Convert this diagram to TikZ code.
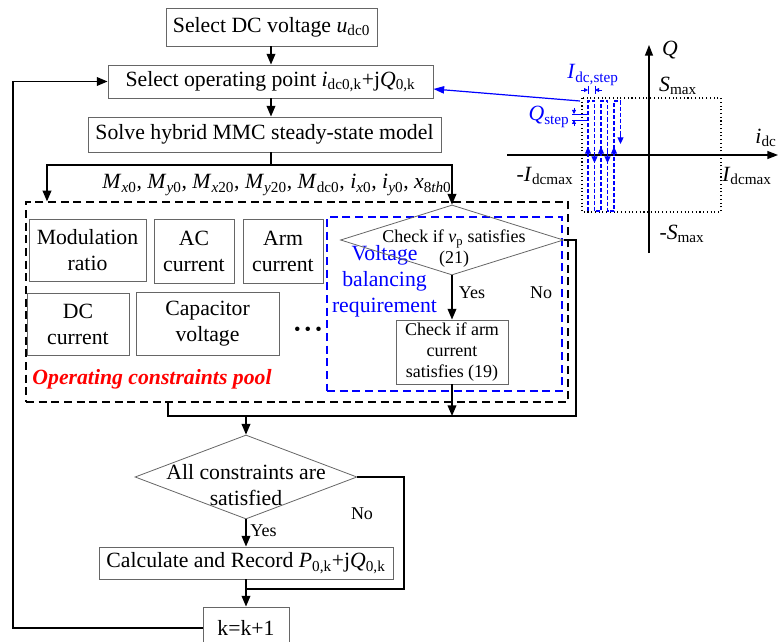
\documentclass[tikz,border=0pt]{standalone}
\usepackage{fontspec}
\setmainfont{Liberation Serif}
\usetikzlibrary{arrows.meta,shapes.geometric}
\newcommand{\sbx}[1]{\textsubscript{#1}}
\tikzset{
  fmain/.style={font=\fontsize{16.3}{19.5}\selectfont},
  fsmall/.style={font=\fontsize{13.5}{16}\selectfont},
  sz/.style 2 args={minimum width=#1*0.75pt, minimum height=#2*0.75pt},
  gbox/.style={draw=black!60, line width=0.7pt, inner sep=0pt, align=center, fmain},
  dia/.style={diamond, draw=black!60, line width=0.6pt, inner sep=0pt},
  flow/.style={line width=1.1pt, -{Triangle[length=8pt,width=6.5pt]}},
  conn/.style={line width=1.1pt},
  pooldash/.style={draw=black, line width=0.9pt, dash pattern=on 6pt off 3.5pt},
  bluedash/.style={draw=blue, line width=0.9pt, dash pattern=on 6pt off 3.5pt},
  txt/.style={inner sep=0pt, fmain},
  serp/.style={blue, line width=0.8pt, dash pattern=on 3pt off 1.5pt},
  sarrow/.style={blue, line width=0.8pt, -{Triangle[length=5pt,width=4.5pt]}},
  tarrow/.style={blue, line width=0.6pt, -{Triangle[length=3pt,width=3pt]}},
}
\begin{document}
\begin{tikzpicture}[x=0.75pt,y=-0.75pt]
\useasboundingbox (0,0) rectangle (779,642);

% main top boxes
\node[gbox, sz={211}{38}] (b1) at (271.5,27) {Select DC voltage \textit{u}\sbx{dc0}};
\node[gbox, sz={325}{33}] (b2) at (270.5,81.5) {Select operating point \textit{i}\sbx{dc0,k}+j\textit{Q}\sbx{0,k}};
\node[gbox, sz={353}{35}] (b3) at (264.5,134.5) {Solve hybrid MMC steady-state model};

% pool and voltage balancing boxes
\node[pooldash, sz={542}{200}] (pool) at (297,302) {};
\node[bluedash, sz={235}{174}] (vbr) at (444.5,304) {};

% constraint boxes
\node[gbox, sz={117}{62}] (c1) at (87.5,250) {Modulation\\ratio};
\node[gbox, sz={80}{64}] (c2) at (194,251) {AC\\current};
\node[gbox, sz={80}{64}] (c3) at (283,251) {Arm\\current};
\node[gbox, sz={102}{62}] (c4) at (78,324) {DC\\current};
\node[gbox, sz={143}{63}] (c5) at (207.5,323.5) {Capacitor\\voltage};
\node[inner sep=0pt, font=\fontsize{14}{14}\selectfont] (dots) at (308,331) {\textbullet\hspace{3pt}\textbullet\hspace{3pt}\textbullet};
\node[txt, text=red, font=\fontsize{16.3}{19.5}\selectfont\bfseries\itshape] (plabel) at (152,379) {Operating constraints pool};
\node[txt, text=blue, align=center] (vlabel) at (384.5,281.5) {Voltage\\balancing\\requirement};

% check diamond 1
\node[dia, sz={223}{70}] (d1) at (452,240) {};
\node[fsmall, align=center, inner sep=0pt] (d1t) at (454,248.5) {Check if \textit{v}\sbx{p} satisfies\\(21)};
\node[gbox, fsmall, sz={112}{64}] (armb) at (452,352) {Check if arm\\current\\satisfies (19)};
\node[txt, fsmall] (yes1) at (472,293) {Yes};
\node[txt, fsmall] (no1) at (541,293) {No};

% diamond 2 and lower boxes
\node[dia, sz={222}{84}] (d2) at (246,477) {};
\node[txt, align=center] (d2t) at (246,485) {All constraints are\\satisfied};
\node[gbox, sz={294}{32}] (calc) at (246,563) {Calculate and Record \textit{P}\sbx{0,k}+j\textit{Q}\sbx{0,k}};
\node[gbox, sz={86}{42}] (kb) at (246,628) {k=k+1};
\node[txt, fsmall] (yes2) at (263.5,531) {Yes};
\node[txt, fsmall] (no2) at (362,514) {No};

% M list
\node[txt] (mlist) at (277,185) {\textit{M}\sbx{\textit{x}0}, \textit{M}\sbx{\textit{y}0}, \textit{M}\sbx{\textit{x}20}, \textit{M}\sbx{\textit{y}20}, \textit{M}\sbx{dc0}, \textit{i}\sbx{\textit{x}0}, \textit{i}\sbx{\textit{y}0}, \textit{x}\sbx{8\textit{th}0}};

% connectors
\coordinate (br) at (271,165);
\coordinate (brL) at (47,165);
\coordinate (brR) at (452,165);
\draw[flow] (br |- b1.south) -- (br |- b2.north);
\draw[flow] (br |- b2.south) -- (br |- b3.north);
\draw[conn] (br |- b3.south) -- (br);
\draw[conn, {Triangle[length=8pt,width=6.5pt]}-{Triangle[length=8pt,width=6.5pt]}] (brL |- pool.north) -- (brL) -- (brR) -- (d1.north);
\draw[flow] (d1.south) -- (armb.north);
\coordinate (jr) at (576,416);
\coordinate (jl) at (168,416);
\coordinate (jm) at (246,416);
\draw[conn] (d1.east) -- (d1.east -| jr) -- (jr) -- (jl) -- (jl |- pool.south);
\draw[flow] (armb.south) -- (armb.south |- jr);
\draw[flow] (jm) -- (d2.north);
\draw[flow] (d2.south) -- (calc.north);
\coordinate (rr) at (404,589);
\draw[conn] (d2.east) -- (d2.east -| rr) -- (rr) -- (rr -| calc.south);
\draw[flow] (calc.south) -- (kb.north);
\coordinate (lp) at (13,626);
\draw[flow] (kb.west) -- (kb.west -| lp) -- (lp |- b2.west) -- (b2.west);

% Q plane
\coordinate (ax0) at (507,155); \coordinate (ax1) at (778,155);
\coordinate (ay0) at (649,253); \coordinate (ay1) at (649,45);
\draw[line width=1pt, -{Triangle[length=8pt,width=6pt]}] (ax0) -- (ax1);
\draw[line width=1pt, -{Triangle[length=8pt,width=6pt]}] (ay0) -- (ay1);
\node[txt] (lQ) at (670,50) {\textit{Q}};
\node[txt] (lidc) at (766,138) {\textit{i}\sbx{dc}};
\node[txt] (lsmax) at (678,86) {\textit{S}\sbx{max}};
\node[txt] (lnsmax) at (682,234) {-\textit{S}\sbx{max}};
\node[txt] (lnimax) at (545,176) {-\textit{I}\sbx{dcmax}};
\node[txt] (limax) at (747,176) {\textit{I}\sbx{dcmax}};
\draw[dotted, line width=0.8pt] (582,98) rectangle (721,212);

% blue link to operating point
\coordinate (qs) at (580,101);
\coordinate (bt) at (433,89);
\draw[blue, line width=0.9pt, -{Triangle[length=8pt,width=5.5pt]}] (qs) -- (b2.east |- bt);

% serpentine scan
\draw[serp] (588,211) -- (588,101) -- (594.5,101) -- (594.5,211) -- (601,211) -- (601,101) -- (607.5,101) -- (607.5,211) -- (614,211) -- (614,101) -- (620.5,101) -- (620.5,136);
\foreach \x in {588,601,614} \draw[sarrow] (\x,156) -- (\x,147);
\foreach \x in {594.5,607.5} \draw[sarrow] (\x,152) -- (\x,163);
\draw[sarrow] (620.5,134) -- (620.5,144);

% Idc,step marker
\draw[blue, line width=0.6pt] (588,86) -- (588,94);
\draw[blue, line width=0.6pt] (595,86) -- (595,94);
\draw[tarrow] (581,90) -- (588,90);
\draw[tarrow] (602,90) -- (595,90);
\node[txt, text=blue] (lidcs) at (593,75) {\textit{I}\sbx{dc,step}};

% Qstep marker
\draw[blue, line width=0.6pt] (572,114) -- (587,114);
\draw[blue, line width=0.6pt] (572,120) -- (587,120);
\draw[tarrow] (574,108) -- (574,114);
\draw[tarrow] (574,126) -- (574,120);
\node[txt, text=blue] (lqs) at (549,117) {\textit{Q}\sbx{step}};
\end{tikzpicture}
\end{document}
